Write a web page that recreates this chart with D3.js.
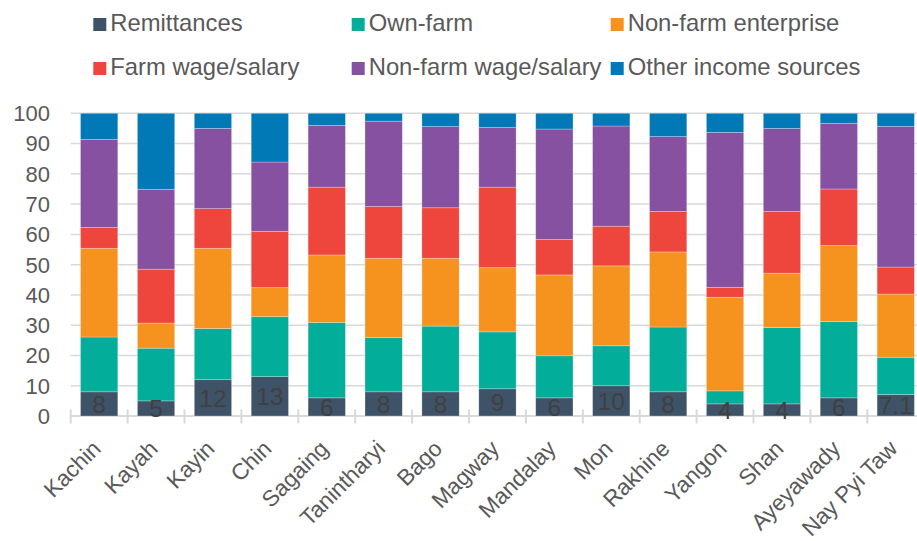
<!DOCTYPE html>
<html>
<head>
<meta charset="utf-8">
<script src="https://cdn.jsdelivr.net/npm/d3@7"></script>
<style>
  html, body { margin: 0; padding: 0; background: #fff; }
  svg { display: block; font-family: "Liberation Sans", Arial, sans-serif; }
</style>
</head>
<body>
<svg id="chart" width="917" height="541"></svg>
<script>
// Share of household income by source, per state/region (%)
const regions = ["Kachin", "Kayah", "Kayin", "Chin", "Sagaing", "Tanintharyi", "Bago", "Magway",
  "Mandalay", "Mon", "Rakhine", "Yangon", "Shan", "Ayeyawady", "Nay Pyi Taw"];

const remittances       = [8, 5, 12, 13, 6, 8, 8, 9, 6, 10, 8, 4, 4, 6, 7.1];
const ownFarm           = [18.1, 17.4, 16.9, 19.8, 24.9, 17.9, 21.7, 18.8, 13.9, 13.2, 21.4, 4.3, 25.2, 25.2, 12.3];
const nonFarmEnterprise = [29.3, 8.3, 26.5, 9.6, 22.3, 26.2, 22.4, 21.2, 26.7, 26.4, 24.8, 30.9, 18.0, 25.1, 20.9];
const farmWage          = [6.9, 17.8, 13.1, 18.6, 22.4, 17.1, 16.7, 26.6, 11.7, 13.1, 13.4, 3.3, 20.4, 18.7, 8.9];
const nonFarmWage       = [29.1, 26.4, 26.5, 22.9, 20.4, 28.2, 26.8, 19.7, 36.5, 33.1, 24.7, 51.2, 27.4, 21.7, 46.5];
const otherIncome       = [8.6, 25.1, 5.0, 16.1, 4.0, 2.6, 4.4, 4.7, 5.2, 4.2, 7.7, 6.3, 5.0, 3.3, 4.3];

const seriesNames = ["Remittances", "Own-farm", "Non-farm enterprise",
  "Farm wage/salary", "Non-farm wage/salary", "Other income sources"];
const seriesValues = [remittances, ownFarm, nonFarmEnterprise, farmWage, nonFarmWage, otherIncome];
const yTicks = [0, 10, 20, 30, 40, 50, 60, 70, 80, 90, 100];

const colors = ["#3e5368", "#02ad99", "#f6921e", "#ee463c", "#8751a1", "#0179b7"];

const rows = regions.map((r, i) => {
  const o = { region: r };
  seriesNames.forEach((s, k) => { o[s] = seriesValues[k][i]; });
  return o;
});

const svg = d3.select("#chart");
const gridColor = "#d9d9d9";
const textColor = "#595959";

const x = d3.scaleBand()
  .domain(regions)
  .range([70.7, 924.2])
  .paddingInner(0.3445)
  .paddingOuter(0.17225);

const y = d3.scaleLinear().domain([0, 100]).range([416, 113.3]);

// horizontal gridlines
svg.append("g")
  .selectAll("line")
  .data(yTicks)
  .join("line")
  .attr("x1", x.range()[0])
  .attr("x2", x.range()[1])
  .attr("y1", d => y(d))
  .attr("y2", d => y(d))
  .attr("stroke", gridColor)
  .attr("stroke-width", d => d === 0 ? 2 : 1.5);

// y-axis labels
svg.append("g")
  .selectAll("text")
  .data(yTicks)
  .join("text")
  .attr("x", 50)
  .attr("y", d => y(d) + 7.9)
  .attr("text-anchor", "end")
  .attr("font-size", 22)
  .attr("fill", textColor)
  .text(d => d);

// category boundary ticks (crossing the axis)
const step = x.step();
const boundaries = regions.map(r => x(r) - step * x.paddingInner() / 2);
boundaries.push(x(regions[regions.length - 1]) + x.bandwidth() + step * x.paddingInner() / 2);
svg.append("g")
  .selectAll("line")
  .data(boundaries)
  .join("line")
  .attr("x1", d => d).attr("x2", d => d)
  .attr("y1", y(0) - 6.5).attr("y2", y(0) + 7.5)
  .attr("stroke", gridColor)
  .attr("stroke-width", 2);

// stacked bars
const stacked = d3.stack().keys(seriesNames)(rows);
svg.append("g")
  .selectAll("g")
  .data(stacked)
  .join("g")
  .attr("fill", (d, i) => colors[i])
  .selectAll("rect")
  .data(d => d)
  .join("rect")
  .attr("x", d => x(d.data.region))
  .attr("width", x.bandwidth())
  .attr("y", d => y(d[1]))
  .attr("height", d => y(d[0]) - y(d[1]))
  .attr("stroke", "rgba(255,255,255,0.35)")
  .attr("stroke-width", 0.75);

// remittance value labels, centred in the bottom segment
svg.append("g")
  .selectAll("text")
  .data(rows)
  .join("text")
  .attr("x", d => x(d.region) + x.bandwidth() / 2)
  .attr("y", d => y(d["Remittances"] / 2) + 8.8)
  .attr("text-anchor", "middle")
  .attr("font-size", 24.5)
  .attr("fill", "#404040")
  .text(d => d["Remittances"]);

// rotated category labels
svg.append("g")
  .selectAll("text")
  .data(regions)
  .join("text")
  .attr("transform", d => `translate(${x(d) + x.bandwidth() / 2 + 3},450) rotate(-45)`)
  .attr("text-anchor", "end")
  .attr("font-size", 22.6)
  .attr("fill", textColor)
  .text(d => d);

// legend: two rows of three
const legendCols = [93.3, 351.7, 610.7];
const legendRows = [31, 75];
const legend = svg.append("g")
  .selectAll("g")
  .data(seriesNames)
  .join("g")
  .attr("transform", (d, i) => `translate(${legendCols[i % 3]},${legendRows[Math.floor(i / 3)]})`);
legend.append("rect")
  .attr("x", 0).attr("y", -13)
  .attr("width", 13).attr("height", 13)
  .attr("fill", (d, i) => colors[i]);
legend.append("text")
  .attr("x", 17).attr("y", 0)
  .attr("font-size", 23.8)
  .attr("fill", textColor)
  .text(d => d);
</script>
</body>
</html>
